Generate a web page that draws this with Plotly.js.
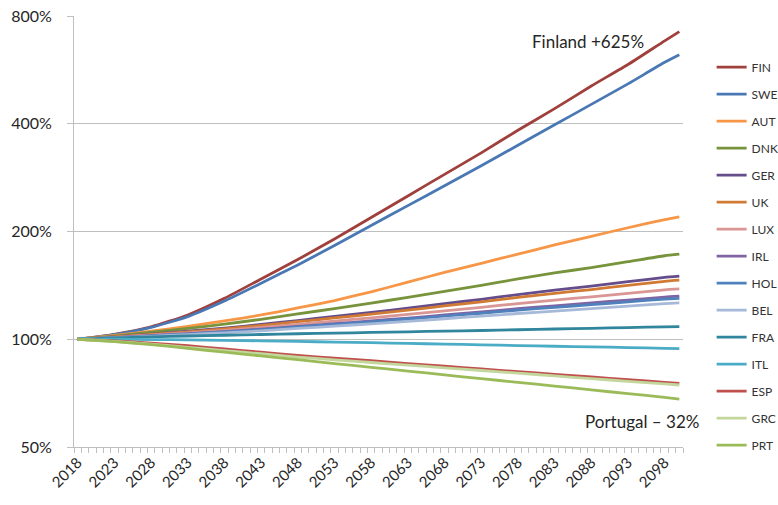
<!DOCTYPE html>
<html>
<head>
<meta charset="utf-8">
<script src="https://cdn.plot.ly/plotly-3.0.1.min.js"></script>
<style>html,body{margin:0;padding:0;background:#fff;}#chart{width:778px;height:505px;}</style>
</head>
<body>
<div id="chart"></div>
<script>
// Years at which values were read (every 5 years plus final 2100)
const years = [2018,2023,2028,2033,2038,2043,2048,2053,2058,2063,2068,2073,2078,2083,2088,2093,2098,2100];
const tickYears = [2018,2023,2028,2033,2038,2043,2048,2053,2058,2063,2068,2073,2078,2083,2088,2093,2098];
const countries = ["FIN","SWE","AUT","DNK","GER","UK","LUX","IRL","HOL","BEL","FRA","ITL","ESP","GRC","PRT"];
// Index values in % (2018 = 100)
const FIN = [100,103.2,108.3,116.9,130.1,147.4,167.0,190.5,218.8,251.4,288.8,331.7,383.7,440.8,509.8,585.6,682.0,723.5];
const SWE = [100,103.0,107.9,115.7,127.9,143.4,161.3,182.8,207.8,236.2,268.5,305.3,348.2,397.2,453.1,516.9,593.8,623.3];
const AUT = [100,102.5,105.3,108.7,112.5,116.9,122.3,128.3,135.7,144.4,153.7,163.0,172.9,183.4,193.9,204.9,215.8,219.8];
const DNK = [100,102.1,104.6,107.2,110.2,113.7,117.7,121.8,126.1,131.0,136.1,141.4,147.4,153.2,158.6,164.7,171.1,172.8];
const GER = [100,101.5,103.4,105.3,107.4,110.0,112.8,115.8,118.8,122.2,125.7,129.3,133.3,137.2,140.7,144.8,148.9,150.0];
const UK  = [100,101.5,103.2,104.9,106.9,109.3,112.0,114.7,117.5,120.6,123.9,127.2,130.9,134.4,137.7,141.4,145.2,146.2];
const LUX = [100,101.2,102.7,104.2,105.9,107.9,110.1,112.4,114.8,117.3,120.0,122.8,125.8,128.7,131.4,134.4,137.4,138.2];
const IRL = [100,101.1,102.3,103.6,105.0,106.7,108.6,110.5,112.5,114.6,116.9,119.2,121.7,124.0,126.3,128.7,131.2,131.9];
const HOL = [100,101.0,102.2,103.4,104.8,106.4,108.2,110.0,111.8,113.9,116.0,118.2,120.6,122.8,124.9,127.2,129.5,130.1];
const BEL = [100,100.9,101.9,103.0,104.2,105.6,107.2,108.8,110.4,112.2,114.1,116.0,118.0,119.9,121.8,123.8,125.8,126.3];
const FRA = [100,100.8,101.5,102.1,102.6,103.1,103.6,104.0,104.5,104.9,105.4,105.8,106.3,106.8,107.3,107.8,108.3,108.5];
const ITL = [100,100.0,99.8,99.6,99.3,99.0,98.6,98.2,97.8,97.4,96.9,96.5,96.0,95.6,95.2,94.8,94.3,94.1];
const ESP = [100,99.0,97.6,95.9,94.0,92.0,90.1,88.6,87.1,85.5,84.1,82.6,81.2,79.8,78.5,77.1,75.8,75.3];
const GRC = [100,98.6,96.9,94.9,93.0,91.1,89.2,87.6,86.1,84.7,83.2,81.8,80.4,79.0,77.6,76.3,75.0,74.5];
const PRT = [100,98.5,96.6,94.3,92.0,89.8,87.7,85.5,83.5,81.5,79.5,77.6,75.8,74.0,72.2,70.5,68.8,68.0];
const yTicks = [50,100,200,400,800];
const yTickText = ["50%","100%","200%","400%","800%"];

const seriesValues = [FIN,SWE,AUT,DNK,GER,UK,LUX,IRL,HOL,BEL,FRA,ITL,ESP,GRC,PRT];
const colors = ["#A0403C","#4A78B4","#F79646","#77933C","#654C8A","#D07A34","#D99694","#8064A2","#4F81BD","#A7B9D8","#31859C","#4BACC6","#C0504D","#C3D69B","#9BBB59"];

const traces = countries.map((c,i) => ({
  type: "scatter", mode: "lines", name: c,
  x: years, y: seriesValues[i],
  line: {color: colors[i], width: 2.8, shape: "spline", smoothing: 0.5},
  legendgroup: c, hoverinfo: "skip"
}));

const font = "Lato, 'Open Sans', 'Liberation Sans', sans-serif";
const layout = {
  width: 778, height: 505,
  margin: {l: 74, r: 95, t: 16, b: 58, autoexpand: false},
  paper_bgcolor: "#fff", plot_bgcolor: "#fff",
  font: {family: font, color: "#262626"},
  showlegend: true,
  legend: {x: 1.047, xanchor: "left", y: 0.915, yanchor: "top", font: {size: 12, color: "#333333", family: font},
           tracegroupgap: 8, itemwidth: 30, bgcolor: "rgba(0,0,0,0)"},
  xaxis: {
    type: "linear", range: [2017.5, 2100.5], automargin: false,
    tickmode: "array", tickvals: tickYears, ticktext: tickYears.map(String),
    tickangle: -45, ticks: "", tickfont: {size: 15, color: "#262626"},
    showgrid: false, zeroline: false, showline: true, linecolor: "#BFBFBF", linewidth: 1,
    minor: {ticks: "outside", tick0: 2017.5, dtick: 1, ticklen: 5, tickcolor: "#BFBFBF", tickwidth: 1, showgrid: false}
  },
  yaxis: {
    type: "log", range: [Math.log10(50), Math.log10(800)], automargin: false,
    tickmode: "array", tickvals: yTicks, ticktext: yTickText,
    tickfont: {size: 16, color: "#262626"}, ticks: "outside", ticklen: 6, tickcolor: "#BFBFBF",
    ticklabelstandoff: 12,
    showgrid: true, gridcolor: "#BFBFBF", gridwidth: 1, zeroline: false,
    showline: true, linecolor: "#BFBFBF", linewidth: 1
  },
  annotations: [
    {xref: "paper", yref: "paper", x: 0.844, y: 0.94, xanchor: "center", yanchor: "middle", text: "Finland +625%", showarrow: false,
     font: {size: 17, color: "#262626", family: font}},
    {xref: "paper", yref: "paper", x: 0.933, y: 0.06, xanchor: "center", yanchor: "middle", text: "Portugal – 32%", showarrow: false,
     font: {size: 17, color: "#262626", family: font}}
  ]
};

Plotly.newPlot("chart", traces, layout, {staticPlot: true, displayModeBar: false});
</script>
</body>
</html>
